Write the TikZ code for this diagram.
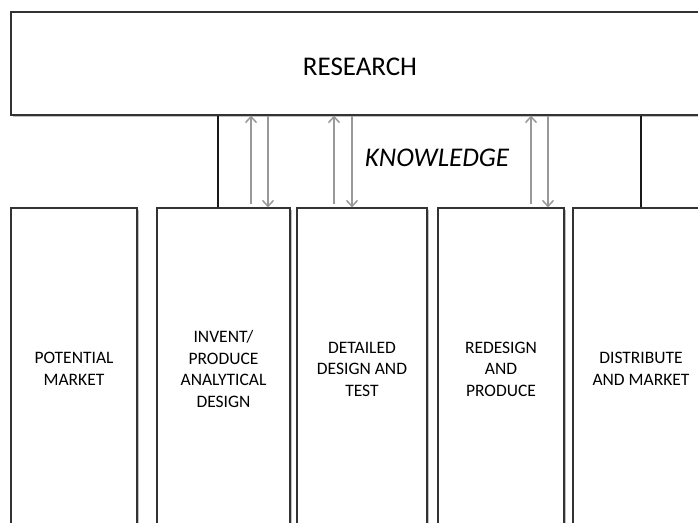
\documentclass[tikz,border=0pt]{standalone}
\usepackage{fontspec}
\setmainfont{Carlito}
\usetikzlibrary{arrows.meta, shadows}
\usetikzlibrary{positioning}

\begin{document}
\begin{tikzpicture}[x=1pt, y=-1pt,
	box/.style={draw=black!80, line width=1.1pt, fill=white, align=center, text=black, inner sep=0pt,
		drop shadow={shadow xshift=1.5pt, shadow yshift=-1.5pt, fill=black!50, opacity=0.5}},
	stage/.style={box, minimum height=322pt, font=\fontsize{17.5}{21.5}\selectfont},
	link/.style={line width=1.6pt, black!90},
	flow/.style={line width=1.5pt, black!40, -{Straight Barb[length=6pt, width=11pt]}}]
	\useasboundingbox (0,0) rectangle (698,522);
	\clip (0,0) rectangle (698,522);
	% oberer Kasten
	\node[box, minimum width=698pt, minimum height=103pt, text height=24pt,
		font=\fontsize{27}{32}\selectfont] (research) at (360,63.5) {RESEARCH};
	% Stufen
	\node[stage, minimum width=126pt] (potential) at (74,369) {POTENTIAL\\MARKET};
	\node[stage, minimum width=133pt] (invent) at (223.5,369) {INVENT/\\PRODUCE\\ANALYTICAL\\DESIGN};
	\node[stage, minimum width=130pt] (detail) at (362,369) {DETAILED\\DESIGN AND\\TEST};
	\node[stage, minimum width=126pt] (redesign) at (501,369) {REDESIGN\\AND\\PRODUCE};
	\node[stage, minimum width=136pt] (distribute) at (641,369) {DISTRIBUTE\\AND MARKET};
	\node[font=\fontsize{27}{32}\selectfont\itshape, text=black] (knowledge) at (437,158) {KNOWLEDGE};
	% Verbindungen
	\draw[link] ([xshift=-5.5pt]invent.north) -- ([xshift=-5.5pt]invent.north |- research.south);
	\draw[link] (distribute.north) -- (distribute.north |- research.south);
	\foreach \n/\ua/\da in {invent/27.5/44.5, detail/-28/-10, redesign/30/47} {
		\draw[flow] ([xshift=\ua pt, yshift=3pt]\n.north) -- ([xshift=\ua pt]\n.north |- research.south);
		\draw[flow] ([xshift=\da pt]\n.north |- research.south) -- ([xshift=\da pt]\n.north);
	}
\end{tikzpicture}
\end{document}
